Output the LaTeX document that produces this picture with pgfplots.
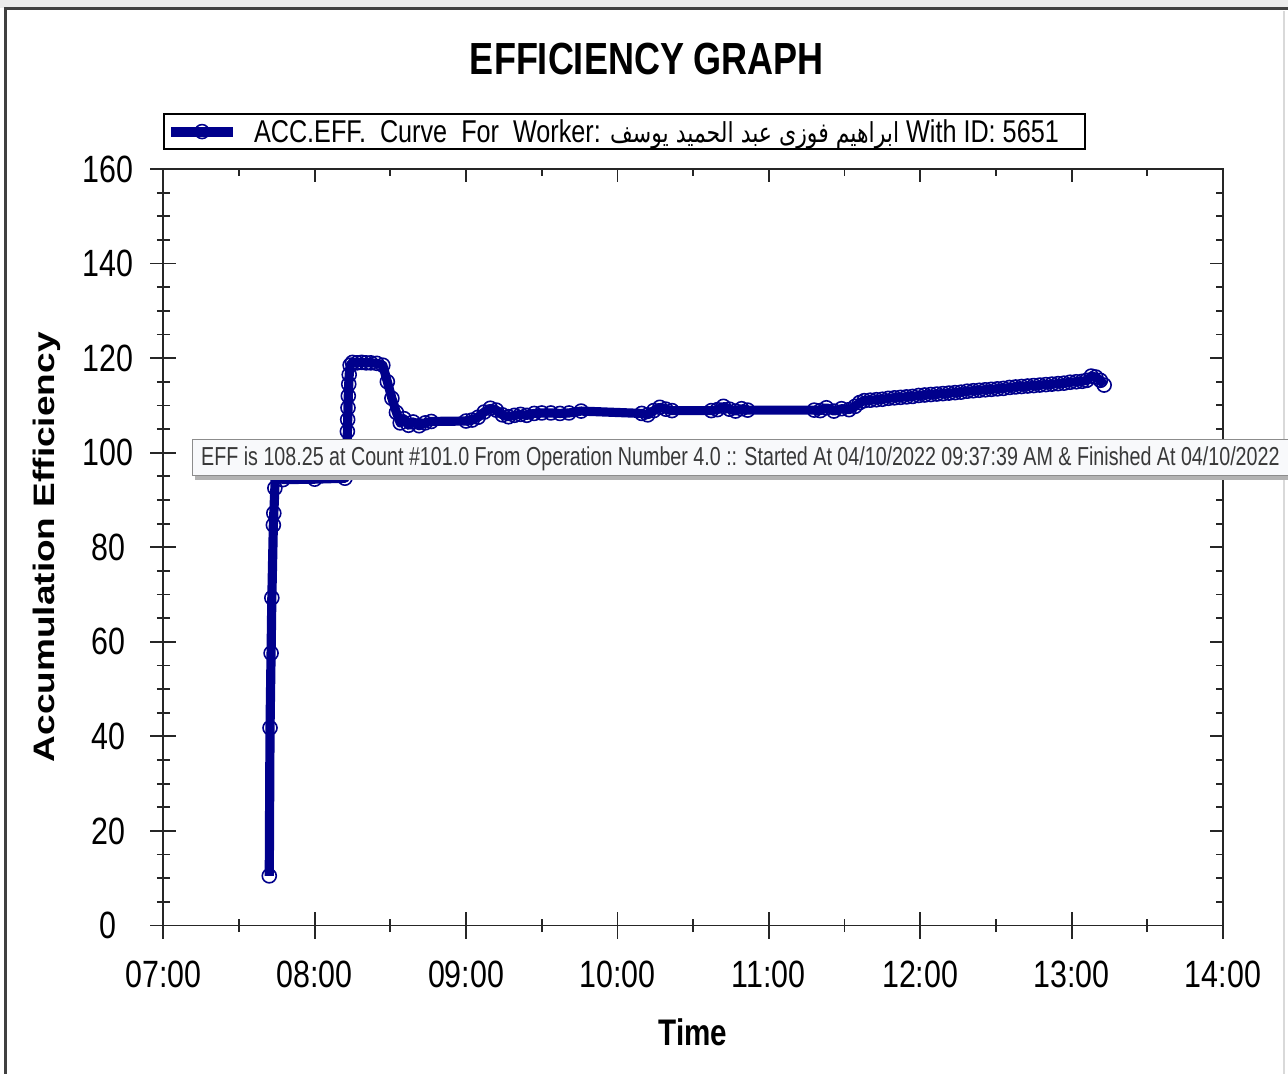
\documentclass[border=0pt]{standalone}
\usepackage{pgfplots}
\pgfplotsset{compat=1.18}
\usepackage{fontspec}
\setmainfont[FakeStretch=0.8]{Liberation Sans}
\newfontfamily\plainfont{Liberation Sans}
\newfontfamily\tipfont[FakeStretch=0.757]{Liberation Sans}
\newfontfamily\arabicfont[Script=Arabic,FakeStretch=0.8]{DejaVu Sans}
\TeXXeTstate=1
\definecolor{navy}{RGB}{0,0,140}
\definecolor{tipfill}{RGB}{248,249,251}
\pgfplotstableread{
h v
7.700 10.5
7.705 41.8
7.712 57.6
7.717 69.3
7.727 84.7
7.730 87.2
7.737 92.5
7.742 98.5
7.775 98.8
7.790 94.3
8.000 94.4
8.200 94.6
8.212 98.5
8.214 101.5
8.216 104.5
8.218 107.0
8.220 109.5
8.222 112.0
8.225 114.5
8.228 116.5
8.234 118.5
8.250 119.1
8.280 119.0
8.310 119.1
8.340 119.0
8.370 119.0
8.410 118.9
8.450 118.5
8.480 115.0
8.510 111.5
8.540 108.5
8.565 106.3
8.590 107.2
8.620 105.8
8.650 106.5
8.690 105.7
8.730 106.3
8.770 106.6
9.000 106.7
9.040 106.9
9.080 107.5
9.120 108.6
9.160 109.4
9.200 109.0
9.240 108.0
9.280 107.6
9.320 107.9
9.360 108.1
9.400 107.9
9.450 108.3
9.500 108.4
9.560 108.4
9.620 108.3
9.680 108.4
9.760 108.8
10.160 108.3
10.200 108.0
10.240 108.9
10.280 109.6
10.320 109.2
10.360 108.9
10.620 108.9
10.660 109.1
10.700 109.8
10.740 109.2
10.780 108.8
10.820 109.3
10.860 109.0
11.300 109.0
11.340 108.9
11.380 109.5
11.430 108.8
11.480 109.3
11.530 109.1
11.570 109.8
11.600 110.6
11.630 111.0
11.670 111.1
11.710 111.2
11.750 111.3
11.790 111.5
11.830 111.6
11.870 111.7
11.910 111.8
11.950 111.9
11.990 112.1
12.030 112.2
12.070 112.3
12.110 112.4
12.150 112.5
12.190 112.6
12.230 112.7
12.270 112.8
12.310 113.0
12.350 113.1
12.390 113.2
12.430 113.3
12.470 113.4
12.510 113.5
12.550 113.6
12.590 113.8
12.630 113.9
12.670 114.0
12.710 114.1
12.750 114.2
12.790 114.3
12.830 114.4
12.870 114.5
12.910 114.6
12.950 114.7
12.990 114.9
13.030 115.0
13.070 115.1
13.100 115.3
13.130 116.2
13.160 116.0
13.190 115.3
13.215 114.3
}\effdata
\begin{document}
\begin{tikzpicture}
\useasboundingbox (0bp,0bp) rectangle (1288bp,1074bp);
\clip (0bp,0bp) rectangle (1288bp,1074bp);
\fill[white] (0bp,0bp) rectangle (1288bp,1074bp);
\fill[black!8] (0bp,1066bp) rectangle (1288bp,1074bp);
\draw[black!75, line width=3bp] (5bp,0bp) -- (5bp,1065bp) -- (1288bp,1065bp);
\draw[black!15, line width=2bp] (1284bp,0bp) -- (1284bp,1063bp);
\begin{axis}[
  at={(163.3bp,148.5bp)}, anchor=south west,
  scale only axis, width=1059.7bp, height=756.5bp,
  xmin=7, xmax=14, ymin=0, ymax=160,
  xtick={7,8,...,14},
  xticklabels={07:00,08:00,09:00,10:00,11:00,12:00,13:00,14:00},
  ytick={0,20,...,160},
  minor x tick num=1, minor y tick num=3,
  xtick pos=bottom, ytick pos=left,
  tick align=center,
  major tick length=26bp, minor tick length=13bp,
  axis line style={line width=1.8bp, black!85},
  every tick/.style={line width=1.8bp, black!85},
  tick label style={font=\fontsize{38bp}{40bp}\selectfont, text=black},
  /pgf/number format/assume math mode=true,
  yticklabel style={anchor=center, inner sep=0pt, xshift=-42bp},
  xticklabel style={anchor=north, inner sep=0pt, yshift=-22bp},
  xlabel={Time},
  xlabel style={at={(axis description cs:0.5,0)}, anchor=base, yshift=-119.5bp, font=\fontsize{37bp}{40bp}\selectfont\bfseries},
  ylabel={\scalebox{1}[0.8]{\plainfont\bfseries Accumulation Efficiency}},
  ylabel style={at={(axis description cs:0,0.5)}, anchor=center, yshift=116bp, font=\fontsize{37bp}{40bp}\selectfont},
  legend style={at={(axis description cs:0,1)}, anchor=south west, yshift=19bp,
    draw=black, line width=1.5bp, fill=white, inner xsep=2bp, inner ysep=3.5bp,
    font=\fontsize{31.5bp}{34bp}\selectfont,
    /tikz/every odd column/.append style={column sep=14bp}},
  legend image code/.code={
    \draw[line width=10bp, navy] (0bp,0bp) -- (62bp,0bp);
    \draw[line width=1.6bp, navy, fill=none] (31bp,0bp) circle (7bp);
  },
]
\addplot[navy, line width=9.2bp, line join=round, mark=o, mark size=7bp,
  mark options={line width=1.6bp, solid, fill=none}] table[x=h, y=v] {\effdata};
\addlegendentry{ACC.EFF.\ \ Curve\ \ For\ \ Worker: {\arabicfont\fontsize{27.5bp}{30bp}\selectfont\beginR ابراهيم فوزى عبد الحميد يوسف\endR} With ID: 5651\rule{22bp}{0pt}}
\end{axis}
\begin{axis}[
  at={(163.3bp,148.5bp)}, anchor=south west,
  scale only axis, width=1059.7bp, height=756.5bp,
  xmin=7, xmax=14, ymin=0, ymax=160,
  xtick={7,8,...,14}, ytick={0,20,...,160},
  minor x tick num=1, minor y tick num=3,
  xtick pos=top, ytick pos=right,
  tick align=inside,
  major tick length=13bp, minor tick length=7bp,
  axis line style={draw=none},
  every tick/.style={line width=1.8bp, black!85},
  xticklabels={}, yticklabels={},
]
\end{axis}
\node[font=\fontsize{45bp}{50bp}\selectfont\bfseries, anchor=base, inner sep=0pt] at (647bp,999bp) {EFFICIENCY GRAPH};
\fill[black!30] (195bp,594bp) rectangle (1300bp,630bp);
\draw[black!45, fill=tipfill, line width=1bp] (192bp,598bp) rectangle (1300bp,634bp);
\node[anchor=base west, inner sep=0pt, text=black!78, font=\tipfont\fontsize{26bp}{28bp}\selectfont] at (201bp,608bp) {EFF is 108.25 at Count \#101.0 From Operation Number 4.0 :: Started At 04/10/2022 09:37:39 AM \& Finished At 04/10/2022};
\end{tikzpicture}
\end{document}
